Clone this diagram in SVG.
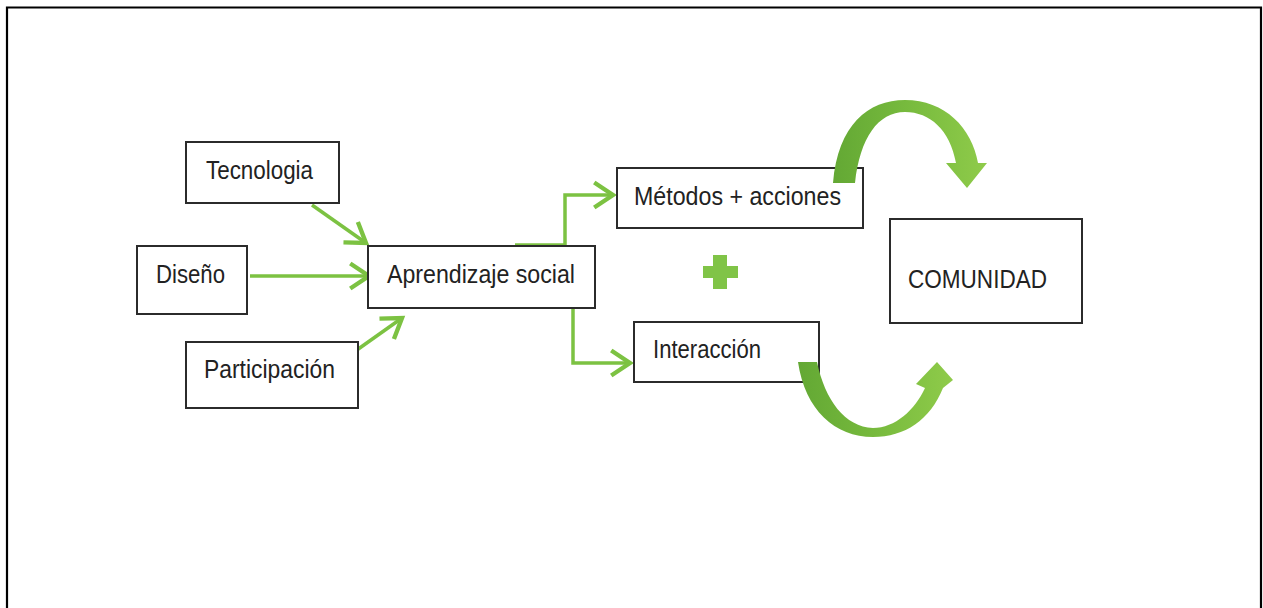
<svg xmlns="http://www.w3.org/2000/svg" width="1263" height="608" viewBox="0 0 1263 608">
  <style>
    .box { fill: #ffffff; stroke: #2b2b2b; stroke-width: 2; }
    .lbl { font-family: "Liberation Sans", Arial, sans-serif; font-size: 25px; fill: #222222; }
    .con { fill: none; stroke: #7cc242; stroke-width: 3.5; stroke-linejoin: miter; }
  </style>
  <defs>
    <marker id="chev" markerUnits="userSpaceOnUse" markerWidth="30" markerHeight="30" viewBox="-20 -12 24 24" refX="0" refY="0" orient="auto">
      <path d="M -15 -10 L 0 0 L -15 10" fill="none" stroke="#7cc242" stroke-width="3.5"/>
    </marker>
    <linearGradient id="gTop" x1="0" y1="0" x2="1" y2="0">
      <stop offset="0" stop-color="#63a834"/>
      <stop offset="0.5" stop-color="#78bb3e"/>
      <stop offset="1" stop-color="#8fcb4a"/>
    </linearGradient>
    <linearGradient id="gBot" x1="0" y1="0" x2="1" y2="0">
      <stop offset="0" stop-color="#63a834"/>
      <stop offset="0.5" stop-color="#77ba3d"/>
      <stop offset="1" stop-color="#8fcb4a"/>
    </linearGradient>
  </defs>
  <rect x="0" y="0" width="1263" height="608" fill="#ffffff"/>
  <path d="M 7 612 V 7.5 H 1261 V 612" fill="none" stroke="#000000" stroke-width="2.2"/>

  <g id="connectors">
    <line class="con" x1="312" y1="205" x2="366" y2="243" marker-end="url(#chev)"/>
    <line class="con" x1="250" y1="276" x2="369" y2="276" marker-end="url(#chev)"/>
    <line class="con" x1="347" y1="357" x2="402" y2="318" marker-end="url(#chev)"/>
    <polyline class="con" points="515,245 565,245 565,195 613,195" marker-end="url(#chev)"/>
    <polyline class="con" points="515,307 573,307 573,363 630,363" marker-end="url(#chev)"/>
  </g>

  <g id="node-tecnologia">
    <rect class="box" x="186" y="142" width="153" height="61"/>
    <text class="lbl" x="206" y="179" textLength="107" lengthAdjust="spacingAndGlyphs">Tecnologia</text>
  </g>
  <g id="node-diseno">
    <rect class="box" x="137" y="246" width="110" height="68"/>
    <text class="lbl" x="156" y="283" textLength="69" lengthAdjust="spacingAndGlyphs">Diseño</text>
  </g>
  <g id="node-participacion">
    <rect class="box" x="186" y="342" width="172" height="66"/>
    <text class="lbl" x="204" y="378" textLength="131" lengthAdjust="spacingAndGlyphs">Participación</text>
  </g>
  <g id="node-aprendizaje">
    <rect class="box" x="368" y="246" width="227" height="62"/>
    <text class="lbl" x="387" y="283" textLength="188" lengthAdjust="spacingAndGlyphs">Aprendizaje social</text>
  </g>
  <g id="node-metodos">
    <rect class="box" x="617" y="168" width="246" height="60"/>
    <text class="lbl" x="634" y="205" textLength="207" lengthAdjust="spacingAndGlyphs">Métodos + acciones</text>
  </g>
  <g id="node-interaccion">
    <rect class="box" x="634" y="322" width="185" height="60"/>
    <text class="lbl" x="653" y="358" textLength="108" lengthAdjust="spacingAndGlyphs">Interacción</text>
  </g>
  <g id="node-comunidad">
    <rect class="box" x="890" y="219" width="192" height="104"/>
    <text class="lbl" x="908" y="288" textLength="139" lengthAdjust="spacingAndGlyphs">COMUNIDAD</text>
  </g>

  <g id="plus">
    <path d="M 713 255 H 727 V 266 H 738 V 278 H 727 V 289 H 713 V 278 H 703 V 266 H 713 Z" fill="#80c447"/>
  </g>

  <g id="curved-arrow-top">
    <path d="M 833 183 C 838 125, 868 100, 905 100 C 945 100, 972 128, 978 163 L 987 163 L 967 188 L 946 163 L 956 163 C 950 130, 930 112, 905 112 C 878 112, 860 138, 855 183 Z" fill="url(#gTop)"/>
  </g>
  <g id="curved-arrow-bottom">
    <path d="M 798 362 L 817 362 C 825 400, 845 427, 873 428 C 895 428, 915 410, 925 388 L 916 384 L 937 362 L 953 380 L 943 388 C 930 420, 905 437, 873 437 C 835 437, 805 410, 798 362 Z" fill="url(#gBot)"/>
  </g>
</svg>
